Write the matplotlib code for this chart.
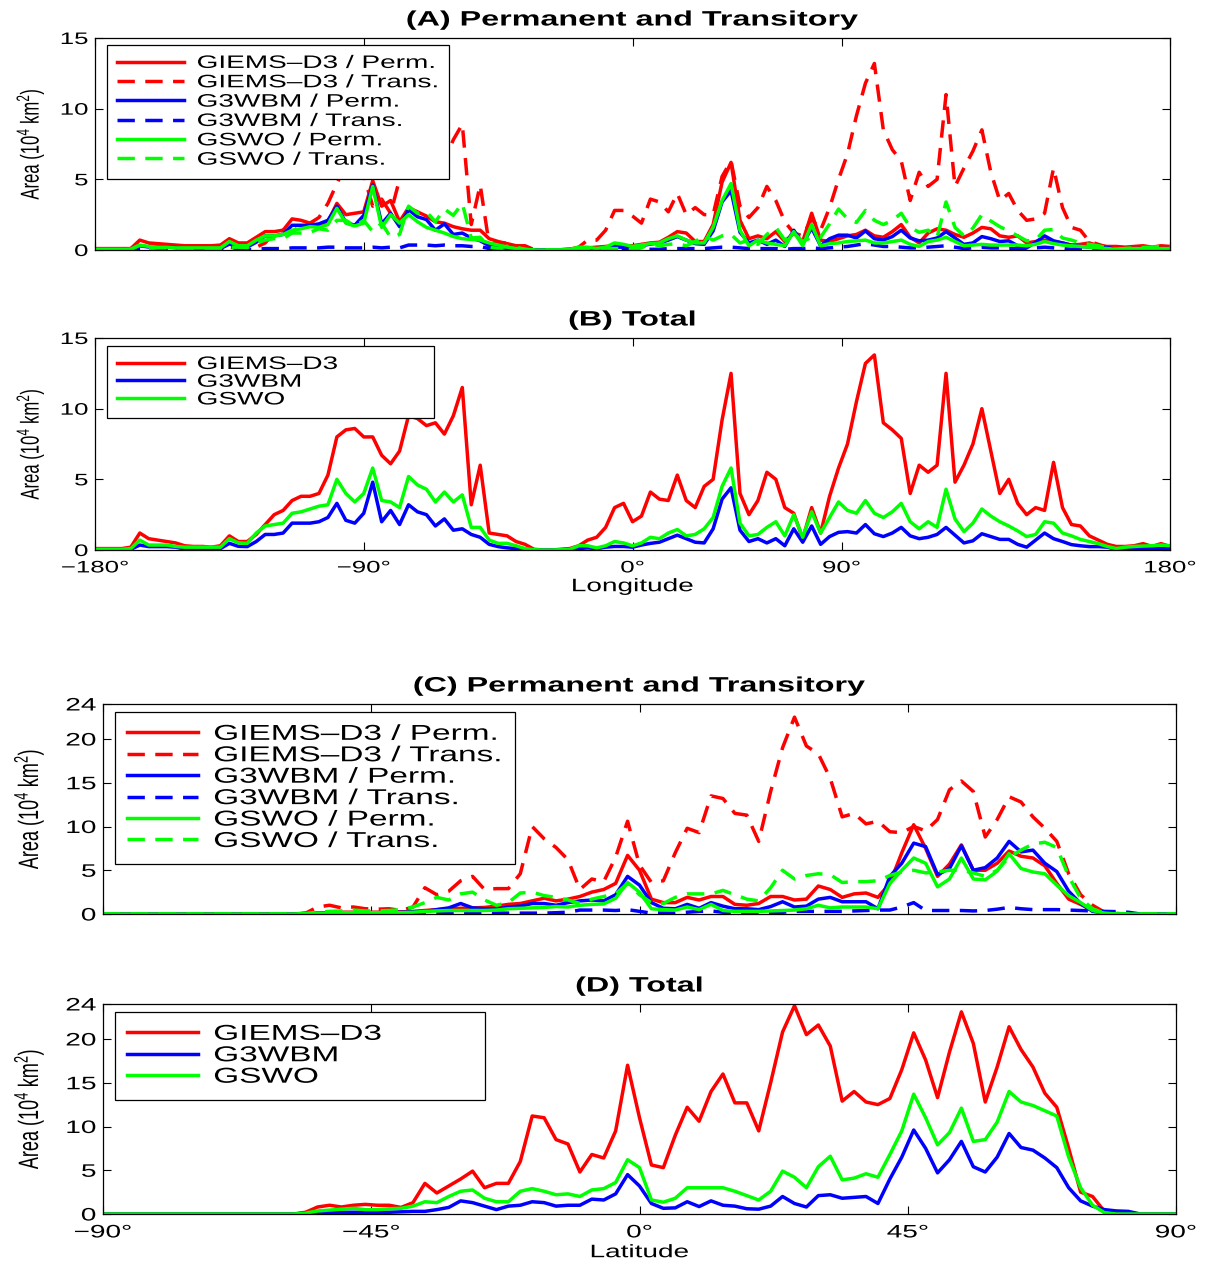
import numpy as np
import matplotlib
matplotlib.use("Agg")
import matplotlib.pyplot as plt
from matplotlib.patheffects import AbstractPathEffect
from matplotlib.transforms import Affine2D
from matplotlib.patches import Rectangle

plt.rcParams['font.family'] = ['Liberation Sans', 'DejaVu Sans']
plt.rcParams['mathtext.fontset'] = 'custom'
plt.rcParams['mathtext.rm'] = 'Liberation Sans'
plt.rcParams['mathtext.default'] = 'regular'

# the original figure was exported with a horizontal stretch of the text
STRETCH = 1.55

RED, BLUE, GREEN = '#ff0000', '#0000ff', '#00ff00'

# ---------------- longitude profiles (3 deg steps) ----------------
lon = np.arange(-180, 181, 3)

giems_perm_lon = [
    0.1, 0.1, 0.1, 0.1, 0.1, 0.7, 0.5, 0.45, 0.4, 0.35,
    0.3, 0.3, 0.3, 0.3, 0.35, 0.8, 0.5, 0.5, 0.9, 1.3,
    1.3, 1.4, 2.2, 2.1, 1.9, 1.7, 2.0, 3.3, 2.5, 2.6,
    2.7, 4.9, 3.1, 3.5, 2.0, 3.0, 2.7, 2.4, 2.0, 1.9,
    1.65, 1.5, 1.4, 1.4, 0.8, 0.6, 0.45, 0.3, 0.1, 0.02,
    0, 0, 0.02, 0.05, 0.1, 0.15, 0.2, 0.25, 0.3, 0.3,
    0.3, 0.4, 0.5, 0.55, 0.9, 1.3, 1.2, 0.6, 0.6, 1.8,
    4.8, 6.2, 2.1, 0.8, 1.0, 0.8, 1.3, 0.6, 1.2, 0.6,
    2.6, 0.7, 0.6, 0.8, 1.0, 1.1, 1.4, 1.0, 0.9, 1.3,
    1.8, 0.9, 0.5, 1.2, 1.5, 1.4, 1.1, 0.9, 1.2, 1.6,
    1.5, 1.0, 0.9, 1.0, 0.5, 0.6, 0.7, 0.6, 0.5, 0.35,
    0.4, 0.5, 0.3, 0.25, 0.25, 0.2, 0.25, 0.3, 0.2, 0.3,
    0.25]
giems_trans_lon = [
    0, 0, 0, 0, 0.1, 0.5, 0.3, 0.25, 0.2, 0.15,
    0, 0, 0, 0, 0, 0.2, 0.1, 0.1, 0.2, 0.5,
    1.2, 1.4, 1.3, 1.7, 1.9, 2.3, 3.3, 4.7, 6.0, 6.0,
    5.3, 3.1, 3.6, 2.6, 5.0, 6.5, 6.6, 6.4, 7.0, 6.3,
    7.8, 8.9, 1.8, 4.6, 0.4, 0.5, 0.5, 0.3, 0.3, 0.03,
    0, 0, 0, 0.05, 0.2, 0.7, 0.7, 1.4, 2.8, 2.8,
    2.4, 1.9, 3.6, 3.4, 2.7, 4.0, 2.5, 3.0, 2.5, 2.5,
    5.2, 6.3, 3.1, 2.3, 3.0, 4.5, 3.5, 2.0, 1.2, 1.0,
    2.2, 1.4, 3.0, 5.0, 6.8, 9.5, 11.8, 13.2, 8.5, 7.1,
    6.3, 3.5, 5.5, 4.5, 5.0, 11.0, 4.5, 5.8, 7.0, 8.5,
    5.5, 3.5, 4.0, 2.8, 2.1, 2.2, 2.6, 5.8, 3.0, 1.6,
    1.4, 0.6, 0.4, 0.2, 0.05, 0.05, 0.1, 0.15, 0.05, 0.15,
    0.05]
g3wbm_perm_lon = [
    0.03, 0.03, 0.03, 0.03, 0.05, 0.3, 0.21, 0.21, 0.21, 0.17,
    0.07, 0.07, 0.07, 0.07, 0.1, 0.42, 0.23, 0.21, 0.55, 1.0,
    1.0, 1.1, 1.75, 1.75, 1.75, 1.85, 2.1, 3.1, 1.95, 1.75,
    2.45, 4.6, 1.85, 2.6, 1.65, 2.85, 2.35, 2.15, 1.4, 1.85,
    1.1, 1.2, 0.85, 0.65, 0.3, 0.19, 0.12, 0.08, 0.04, 0.02,
    0, 0, 0.02, 0.05, 0.08, 0.12, 0.07, 0.15, 0.2, 0.2,
    0.15, 0.3, 0.42, 0.5, 0.7, 0.95, 0.7, 0.45, 0.4, 1.35,
    3.4, 4.2, 1.25, 0.5, 0.7, 0.4, 0.7, 0.25, 1.4, 0.45,
    1.55, 0.3, 0.8, 1.05, 1.05, 0.85, 1.35, 0.8, 0.7, 0.95,
    1.4, 0.85, 0.65, 0.7, 0.85, 1.3, 0.85, 0.4, 0.5, 0.95,
    0.8, 0.6, 0.65, 0.3, 0.15, 0.55, 1.0, 0.65, 0.5, 0.33,
    0.25, 0.21, 0.21, 0.17, 0.05, 0.05, 0.1, 0.1, 0.1, 0.1,
    0.1]
g3wbm_trans_lon = [
    0, 0, 0, 0, 0, 0.05, 0.03, 0.03, 0.03, 0.03,
    0, 0, 0, 0, 0, 0.05, 0.03, 0.03, 0.05, 0.1,
    0.1, 0.1, 0.15, 0.15, 0.15, 0.15, 0.2, 0.2, 0.15, 0.15,
    0.15, 0.2, 0.15, 0.2, 0.15, 0.35, 0.35, 0.35, 0.3, 0.35,
    0.3, 0.3, 0.25, 0.25, 0.1, 0.05, 0.03, 0.02, 0.01, 0,
    0, 0, 0, 0, 0.02, 0.03, 0.03, 0.05, 0.05, 0.05,
    0.05, 0.05, 0.05, 0.05, 0.1, 0.1, 0.1, 0.1, 0.1, 0.15,
    0.2, 0.2, 0.15, 0.1, 0.1, 0.1, 0.1, 0.05, 0.1, 0.1,
    0.15, 0.1, 0.15, 0.2, 0.25, 0.35, 0.45, 0.35, 0.25, 0.25,
    0.2, 0.15, 0.15, 0.2, 0.25, 0.3, 0.2, 0.1, 0.15, 0.2,
    0.15, 0.15, 0.1, 0.1, 0.05, 0.15, 0.2, 0.15, 0.1, 0.05,
    0.05, 0.03, 0.03, 0.03, 0, 0, 0, 0, 0, 0,
    0]
gswo_perm_lon = [
    0.05, 0.05, 0.05, 0.05, 0.05, 0.35, 0.25, 0.2, 0.2, 0.15,
    0.15, 0.15, 0.15, 0.15, 0.15, 0.6, 0.3, 0.3, 0.7, 1.0,
    1.0, 1.1, 1.4, 1.5, 1.65, 1.6, 1.8, 2.95, 1.9, 1.7,
    1.9, 4.5, 1.6, 2.5, 1.9, 2.5, 2.0, 1.6, 1.4, 1.2,
    0.95, 0.8, 0.75, 0.7, 0.5, 0.35, 0.2, 0.1, 0.05, 0,
    0, 0, 0, 0.05, 0.2, 0.2, 0.1, 0.2, 0.5, 0.4,
    0.25, 0.35, 0.45, 0.5, 0.8, 1.0, 0.7, 0.5, 0.5, 1.6,
    3.5, 4.7, 1.4, 0.3, 0.7, 0.5, 0.4, 0.3, 1.3, 0.3,
    1.8, 0.3, 0.45, 0.5, 0.6, 0.65, 0.7, 0.5, 0.5, 0.6,
    0.7, 0.4, 0.25, 0.6, 0.7, 0.9, 0.6, 0.3, 0.35, 0.4,
    0.35, 0.35, 0.35, 0.35, 0.3, 0.4, 0.6, 0.45, 0.35, 0.3,
    0.25, 0.2, 0.15, 0.1, 0.05, 0.1, 0.1, 0.1, 0.1, 0.1,
    0.1]
gswo_trans_lon = [
    0, 0, 0, 0, 0.05, 0.35, 0.1, 0.15, 0.15, 0.1,
    0.05, 0.05, 0.05, 0.05, 0.05, 0.2, 0.2, 0.17, 0.5, 0.7,
    0.8, 0.8, 1.2, 1.2, 1.25, 1.5, 1.4, 2.1, 2.1, 1.7,
    2.1, 1.3, 1.9, 0.9, 1.1, 3.1, 2.6, 2.7, 2.0, 2.9,
    2.45, 3.3, 0.85, 0.9, 0.2, 0.12, 0.27, 0.2, 0.05, 0,
    0, 0, 0, 0, 0.1, 0.1, 0.05, 0.1, 0.1, 0.1,
    0.05, 0.15, 0.45, 0.3, 0.4, 0.45, 0.3, 0.6, 1.0, 0.7,
    1.0, 1.1, 0.5, 0.7, 0.4, 1.1, 1.6, 0.7, 1.2, 0.6,
    0.9, 0.9, 1.85, 2.9, 2.2, 1.95, 2.8, 2.1, 1.8, 2.1,
    2.6, 1.6, 1.25, 1.4, 0.9, 3.4, 1.6, 1.0, 1.55, 2.5,
    2.05, 1.65, 1.35, 1.0, 0.65, 0.7, 1.4, 1.45, 0.85, 0.7,
    0.5, 0.4, 0.3, 0.15, 0.05, 0.1, 0.15, 0.18, 0.2, 0.25,
    0.2]
giems_total_lon = [
    0.1, 0.1, 0.1, 0.1, 0.2, 1.2, 0.8, 0.7, 0.6, 0.5,
    0.3, 0.25, 0.25, 0.2, 0.3, 1.0, 0.6, 0.6, 1.1, 1.8,
    2.5, 2.8, 3.5, 3.8, 3.8, 4.0, 5.3, 8.0, 8.5, 8.6,
    8.0, 8.0, 6.7, 6.1, 7.0, 9.5, 9.3, 8.8, 9.0, 8.2,
    9.5, 11.5, 3.2, 6.0, 1.2, 1.1, 1.0, 0.6, 0.4, 0.05,
    0, 0, 0.05, 0.1, 0.3, 0.7, 0.9, 1.6, 3.0, 3.3,
    2.0, 2.4, 4.1, 3.6, 3.5, 5.3, 3.5, 3.0, 4.5, 5.0,
    9.2, 12.5, 4.0, 2.5, 3.5, 5.5, 5.0, 3.0, 2.6, 0.8,
    3.0, 1.2, 3.8, 5.8, 7.5, 10.5, 13.2, 13.8, 9.0, 8.5,
    7.9, 4.0, 6.0, 5.5, 6.0, 12.5, 4.8, 6.0, 7.5, 10.0,
    7.0, 4.0, 5.0, 3.3, 2.5, 3.0, 2.8, 6.2, 3.0, 1.8,
    1.7, 1.0, 0.7, 0.4, 0.25, 0.25, 0.3, 0.45, 0.25, 0.45,
    0.25]
g3wbm_total_lon = [
    0.03, 0.03, 0.03, 0.03, 0.05, 0.35, 0.24, 0.24, 0.24, 0.2,
    0.07, 0.07, 0.07, 0.07, 0.1, 0.47, 0.26, 0.24, 0.6, 1.1,
    1.1, 1.2, 1.9, 1.9, 1.9, 2.0, 2.3, 3.3, 2.1, 1.9,
    2.6, 4.8, 2.0, 2.8, 1.8, 3.2, 2.7, 2.5, 1.7, 2.2,
    1.4, 1.5, 1.1, 0.9, 0.4, 0.24, 0.15, 0.1, 0.05, 0.02,
    0, 0, 0.02, 0.05, 0.1, 0.15, 0.1, 0.2, 0.25, 0.25,
    0.2, 0.35, 0.47, 0.55, 0.8, 1.05, 0.8, 0.55, 0.5, 1.5,
    3.6, 4.4, 1.4, 0.6, 0.8, 0.5, 0.8, 0.3, 1.5, 0.55,
    1.7, 0.4, 0.95, 1.25, 1.3, 1.2, 1.8, 1.15, 0.95, 1.2,
    1.6, 1.0, 0.8, 0.9, 1.1, 1.6, 1.05, 0.5, 0.65, 1.15,
    0.95, 0.75, 0.75, 0.4, 0.2, 0.7, 1.2, 0.8, 0.6, 0.38,
    0.3, 0.24, 0.24, 0.2, 0.05, 0.05, 0.1, 0.1, 0.1, 0.1,
    0.1]
gswo_total_lon = [
    0.05, 0.05, 0.05, 0.05, 0.1, 0.7, 0.35, 0.35, 0.35, 0.25,
    0.2, 0.2, 0.2, 0.2, 0.2, 0.8, 0.5, 0.47, 1.2, 1.7,
    1.8, 1.9, 2.6, 2.7, 2.9, 3.1, 3.2, 5.0, 4.0, 3.4,
    4.0, 5.8, 3.5, 3.4, 3.0, 5.2, 4.6, 4.3, 3.4, 4.1,
    3.4, 3.9, 1.6, 1.6, 0.7, 0.47, 0.47, 0.3, 0.1, 0.02,
    0, 0, 0.02, 0.05, 0.3, 0.3, 0.15, 0.3, 0.6, 0.5,
    0.3, 0.5, 0.9, 0.8, 1.2, 1.45, 1.0, 1.1, 1.5, 2.3,
    4.5, 5.8, 1.9, 1.0, 1.1, 1.6, 2.0, 1.0, 2.5, 0.9,
    2.7, 1.2, 2.3, 3.4, 2.8, 2.6, 3.5, 2.6, 2.3, 2.7,
    3.3, 2.0, 1.5, 2.0, 1.6, 4.3, 2.2, 1.3, 1.9, 2.9,
    2.4, 2.0, 1.7, 1.35, 0.95, 1.1, 2.0, 1.9, 1.2, 1.0,
    0.75, 0.6, 0.45, 0.25, 0.1, 0.2, 0.25, 0.28, 0.3, 0.35,
    0.3]

# tick positions follow the original axis (its 90E tick sits left of the linear spot)
lon_ticks = [-180, -90, 0, 70, 180]
lon_ticklabels = ['\u2212180\u00b0', '\u221290\u00b0', '0\u00b0', '90\u00b0', '180\u00b0']

# ---------------- latitude profiles (2 deg steps) ----------------
lat = np.arange(-90, 91, 2)

giems_perm_lat = [
    0, 0, 0, 0, 0, 0, 0, 0, 0, 0,
    0, 0, 0, 0, 0, 0, 0, 0.05, 0.1, 0.15,
    0.2, 0.2, 0.2, 0.2, 0.25, 0.25, 0.3, 0.4, 0.5, 0.6,
    0.65, 0.7, 0.75, 0.9, 1.1, 1.2, 1.5, 1.8, 1.5, 1.7,
    2.0, 2.5, 2.8, 3.5, 6.7, 5.0, 1.7, 1.3, 1.3, 1.9,
    1.6, 2.0, 2.0, 1.1, 1.0, 1.2, 2.0, 2.0, 1.6, 1.7,
    3.2, 2.8, 1.9, 2.3, 2.4, 1.9, 3.5, 7.0, 10.2, 7.5,
    4.3, 5.7, 7.9, 5.0, 5.0, 5.8, 7.2, 6.6, 6.4, 5.5,
    3.5, 1.7, 1.1, 0.4, 0.1, 0, 0, 0, 0, 0,
    0]
giems_trans_lat = [
    0, 0, 0, 0, 0, 0, 0, 0, 0, 0,
    0, 0, 0, 0, 0, 0, 0, 0.1, 0.8, 1.0,
    0.7, 0.8, 0.6, 0.55, 0.6, 0.4, 0.8, 3.0, 2.2, 2.6,
    3.8, 4.3, 2.8, 2.9, 2.9, 4.6, 10.0, 8.6, 7.6, 6.2,
    2.8, 4.0, 3.7, 6.5, 10.6, 5.6, 3.6, 3.8, 7.0, 9.8,
    9.3, 13.5, 13.2, 11.5, 11.3, 8.3, 14.0, 19.0, 22.5, 19.2,
    18.3, 15.5, 11.1, 11.5, 10.3, 10.6, 9.4, 9.3, 10.0, 9.5,
    10.8, 14.2, 15.2, 14.0, 8.8, 10.8, 13.4, 12.8, 11.1, 9.8,
    8.3, 4.6, 2.2, 1.0, 0.2, 0.05, 0, 0, 0, 0,
    0]
g3wbm_perm_lat = [
    0, 0, 0, 0, 0, 0, 0, 0, 0, 0,
    0, 0, 0, 0, 0, 0, 0, 0.05, 0.1, 0.15,
    0.15, 0.15, 0.15, 0.15, 0.15, 0.2, 0.25, 0.3, 0.5, 0.7,
    1.2, 0.7, 0.6, 0.55, 0.8, 0.9, 1.2, 1.2, 1.0, 1.3,
    1.5, 1.6, 1.5, 2.2, 4.3, 3.3, 1.3, 0.65, 0.6, 1.1,
    0.65, 1.3, 0.9, 0.6, 0.6, 0.5, 0.85, 1.4, 0.8, 0.9,
    1.7, 1.9, 1.4, 1.4, 1.4, 0.6, 4.3, 5.8, 8.1, 7.7,
    4.5, 5.2, 7.8, 5.0, 5.3, 6.4, 8.3, 7.1, 7.3, 5.8,
    4.85, 2.6, 1.2, 0.3, 0.15, 0.05, 0, 0, 0, 0,
    0]
g3wbm_trans_lat = [
    0, 0, 0, 0, 0, 0, 0, 0, 0, 0,
    0, 0, 0, 0, 0, 0, 0, 0.05, 0.05, 0.05,
    0.05, 0.05, 0.05, 0.05, 0.05, 0.05, 0.05, 0.05, 0.05, 0.1,
    0.1, 0.1, 0.1, 0.1, 0.1, 0.1, 0.1, 0.1, 0.15, 0.2,
    0.45, 0.45, 0.45, 0.4, 0.5, 0.3, 0.1, 0.1, 0.1, 0.2,
    0.3, 0.35, 0.2, 0.2, 0.1, 0.1, 0.1, 0.2, 0.3, 0.3,
    0.3, 0.3, 0.3, 0.35, 0.4, 0.45, 0.45, 0.8, 1.3, 0.4,
    0.4, 0.4, 0.4, 0.35, 0.4, 0.55, 0.75, 0.6, 0.5, 0.5,
    0.5, 0.45, 0.4, 0.35, 0.3, 0.27, 0.2, 0, 0, 0,
    0]
gswo_perm_lat = [
    0, 0, 0, 0, 0, 0, 0, 0, 0, 0,
    0, 0, 0, 0, 0, 0, 0, 0.05, 0.1, 0.1,
    0.15, 0.15, 0.15, 0.15, 0.15, 0.15, 0.2, 0.3, 0.35, 0.4,
    0.4, 0.4, 0.4, 0.45, 0.6, 0.65, 0.7, 0.75, 0.85, 0.8,
    1.0, 1.1, 1.15, 1.8, 3.6, 2.5, 0.6, 0.5, 0.45, 0.8,
    0.5, 1.1, 0.4, 0.3, 0.3, 0.3, 0.35, 0.4, 0.45, 0.6,
    1.0, 0.7, 0.8, 0.8, 0.8, 0.6, 3.5, 5.0, 6.4, 5.8,
    3.1, 4.0, 6.4, 4.0, 3.9, 4.9, 6.9, 5.2, 4.8, 4.6,
    3.3, 2.1, 1.3, 0.4, 0.1, 0, 0, 0, 0, 0,
    0]
gswo_trans_lat = [
    0, 0, 0, 0, 0, 0, 0, 0, 0, 0,
    0, 0, 0, 0, 0, 0, 0, 0.05, 0.2, 0.3,
    0.35, 0.45, 0.35, 0.35, 0.4, 0.5, 0.8, 1.3, 1.9, 1.6,
    2.3, 2.5, 1.6, 1.0, 1.3, 2.4, 2.5, 2.1, 1.9, 1.6,
    1.2, 1.7, 2.0, 2.3, 3.5, 2.2, 1.3, 1.2, 1.9, 2.3,
    2.3, 2.3, 2.7, 2.2, 1.7, 1.5, 3.0, 5.0, 4.0, 4.4,
    4.6, 4.5, 3.6, 3.7, 3.7, 3.8, 4.4, 4.8, 5.0, 4.7,
    4.8, 5.0, 5.0, 4.7, 4.3, 5.0, 6.5, 7.3, 8.0, 8.2,
    7.6, 4.3, 1.8, 0.6, 0.1, 0, 0, 0, 0, 0,
    0]
giems_total_lat = [
    0, 0, 0, 0, 0, 0, 0, 0, 0, 0,
    0, 0, 0, 0, 0, 0, 0, 0.2, 0.8, 1.0,
    0.8, 1.0, 1.1, 1.0, 1.0, 0.75, 1.3, 3.5, 2.4, 3.2,
    4.0, 4.9, 3.0, 3.5, 3.5, 6.0, 11.2, 11.0, 8.5, 8.0,
    4.8, 6.8, 6.4, 9.5, 17.0, 11.0, 5.6, 5.3, 9.0, 12.2,
    10.6, 14.0, 16.0, 12.7, 12.7, 9.5, 15.0, 20.8, 23.8, 20.5,
    21.6, 19.2, 12.9, 14.0, 12.8, 12.5, 13.2, 16.5, 20.7, 17.6,
    13.3, 18.5, 23.1, 19.5, 12.8, 16.8, 21.4, 18.8, 16.8, 13.8,
    12.2, 7.5, 2.5, 2.0, 0.3, 0.05, 0, 0, 0, 0,
    0]
g3wbm_total_lat = [
    0, 0, 0, 0, 0, 0, 0, 0, 0, 0,
    0, 0, 0, 0, 0, 0, 0, 0.1, 0.15, 0.2,
    0.2, 0.2, 0.2, 0.2, 0.2, 0.25, 0.3, 0.3, 0.5, 0.75,
    1.5, 1.3, 0.9, 0.5, 0.9, 1.0, 1.4, 1.3, 0.9, 1.0,
    1.0, 1.7, 1.6, 2.3, 4.5, 3.2, 1.2, 0.65, 0.7, 1.4,
    0.85, 1.5, 1.0, 0.9, 0.6, 0.55, 0.9, 2.0, 1.2, 0.8,
    2.1, 2.2, 1.8, 1.9, 2.0, 1.2, 4.0, 6.5, 9.6, 7.5,
    4.7, 6.2, 8.3, 5.4, 4.8, 6.5, 9.2, 7.6, 7.3, 6.4,
    5.3, 3.0, 1.5, 0.9, 0.5, 0.35, 0.3, 0, 0, 0,
    0]
gswo_total_lat = [
    0, 0, 0, 0, 0, 0, 0, 0, 0, 0,
    0, 0, 0, 0, 0, 0, 0, 0.1, 0.35, 0.45,
    0.55, 0.65, 0.5, 0.5, 0.6, 0.65, 0.9, 1.4, 1.3, 2.0,
    2.6, 2.75, 1.8, 1.4, 1.4, 2.6, 2.9, 2.6, 2.2, 2.3,
    2.0, 2.75, 2.9, 3.6, 6.2, 5.3, 1.6, 1.35, 1.8, 3.0,
    3.0, 3.0, 3.0, 2.6, 2.1, 1.6, 2.6, 4.9, 4.2, 3.0,
    5.4, 6.6, 3.9, 4.1, 4.6, 4.2, 6.8, 9.5, 13.7, 11.0,
    7.9, 9.3, 12.1, 8.3, 8.5, 10.5, 14.0, 12.8, 12.4, 11.8,
    11.2, 6.5, 3.0, 1.0, 0.15, 0, 0, 0, 0, 0,
    0]

lat_ticks = [-90, -45, 0, 45, 90]
lat_ticklabels = ['\u221290\u00b0', '\u221245\u00b0', '0\u00b0', '45\u00b0', '90\u00b0']

DASH = (0, (5, 3))


class HStretch(AbstractPathEffect):
    """Draw text glyphs widened along x, like the stretched export of the original."""

    def __init__(self, sx, anchor="center"):
        super().__init__()
        self.sx = sx
        self.anchor = anchor

    def draw_path(self, renderer, gc, tpath, affine, rgbFace=None):
        bb = tpath.get_extents(affine)
        if self.anchor == "left":
            x0 = bb.x0
        elif self.anchor == "right":
            x0 = bb.x1
        else:
            x0 = 0.5 * (bb.x0 + bb.x1)
        widen = Affine2D().translate(-x0, 0).scale(self.sx, 1).translate(x0, 0)
        renderer.draw_path(gc, tpath, affine + widen, rgbFace)


def stretched(anchor):
    return [HStretch(STRETCH, anchor)]


def style_axes(ax, xlim, ylim, yticks, xticks, xticklabels, tick_size, ylabel_x):
    ax.set_xlim(*xlim)
    ax.set_ylim(*ylim)
    ax.set_yticks(yticks)
    ax.set_yticklabels([str(v) for v in yticks])
    ax.set_xticks(xticks)
    if xticklabels is None:
        ax.set_xticklabels([])
    else:
        ax.set_xticklabels(xticklabels)
    ax.tick_params(direction='in', top=True, right=True, length=6, width=0.8,
                   labelsize=tick_size, pad=5)
    ax.tick_params(axis='x', pad=7.5)
    for sp in ax.spines.values():
        sp.set_linewidth(0.9)
    for t in ax.yaxis.get_major_ticks():
        t.label1.set_path_effects(stretched("right"))
    for t in ax.xaxis.get_major_ticks():
        t.label1.set_path_effects(stretched("center"))
    ax.set_ylabel('Area (10$^4$ km$^2$)', fontsize=tick_size)
    ax.yaxis.set_label_coords(ylabel_x, 0.5)
    ax.yaxis.label.set_path_effects(stretched("center"))


def add_title(ax, text):
    t = ax.set_title(text, fontsize=15, fontweight='bold', pad=9)
    t.set_path_effects(stretched("center"))


def add_legend(ax, fontsize, handlelength, top, spacing):
    leg = ax.legend(loc='upper left', bbox_to_anchor=(0.011, top), borderaxespad=0,
                    frameon=False, fontsize=fontsize, handlelength=handlelength,
                    handletextpad=0.75, labelspacing=spacing, borderpad=0.55)
    for t in leg.get_texts():
        t.set_path_effects(stretched("left"))
    return leg


def frame_legend(fig, ax, leg, extra=0.0):
    # legend texts are widened at draw time, so the frame is drawn to match them;
    # extra widens the box further (in axes fraction), as in the original
    r = fig.canvas.get_renderer()
    bb = leg.get_window_extent(r)
    boxes = [t.get_window_extent(r) for t in leg.get_texts()]
    right_pad = bb.x1 - max(b.x1 for b in boxes)
    right = max(b.x0 + STRETCH * b.width for b in boxes) + right_pad
    inv = ax.transAxes.inverted()
    (x0, y0), (x1, y1) = inv.transform([(bb.x0, bb.y0), (right, bb.y1)])
    ax.add_patch(Rectangle((x0, y0), x1 - x0 + extra, y1 - y0, transform=ax.transAxes,
                           facecolor='white', edgecolor='black', lw=0.9,
                           zorder=4.5, clip_on=False))


W, H = 1217, 1265
fig = plt.figure(figsize=(W / 100, H / 100), dpi=100)

ax_a = fig.add_axes([95 / W, 1 - 250 / H, 1075 / W, 212 / H])
ax_b = fig.add_axes([95 / W, 1 - 550 / H, 1075 / W, 212 / H])
ax_c = fig.add_axes([103 / W, 1 - 914 / H, 1073 / W, 210 / H])
ax_d = fig.add_axes([103 / W, 1 - 1214 / H, 1073 / W, 210 / H])

LW = 2.5

# (A) permanent and transitory, by longitude
ax_a.plot(lon, giems_perm_lon, color=RED, lw=LW, label='GIEMS\u2013D3 / Perm.')
ax_a.plot(lon, giems_trans_lon, color=RED, lw=LW, ls=DASH, label='GIEMS\u2013D3 / Trans.')
ax_a.plot(lon, g3wbm_perm_lon, color=BLUE, lw=LW, label='G3WBM / Perm.')
ax_a.plot(lon, g3wbm_trans_lon, color=BLUE, lw=LW, ls=DASH, label='G3WBM / Trans.')
ax_a.plot(lon, gswo_perm_lon, color=GREEN, lw=LW, label='GSWO / Perm.')
ax_a.plot(lon, gswo_trans_lon, color=GREEN, lw=LW, ls=DASH, label='GSWO / Trans.')
style_axes(ax_a, (-180, 180), (0, 15), [0, 5, 10, 15], lon_ticks, None, 12, -0.05)
add_title(ax_a, '(A) Permanent and Transitory')
leg_a = add_legend(ax_a, 13, 3.7, 0.967, 0.13)

# (B) total, by longitude
ax_b.plot(lon, giems_total_lon, color=RED, lw=LW, label='GIEMS\u2013D3')
ax_b.plot(lon, g3wbm_total_lon, color=BLUE, lw=LW, label='G3WBM')
ax_b.plot(lon, gswo_total_lon, color=GREEN, lw=LW, label='GSWO')
style_axes(ax_b, (-180, 180), (0, 15), [0, 5, 10, 15], lon_ticks, lon_ticklabels, 12, -0.05)
add_title(ax_b, '(B) Total')
leg_b = add_legend(ax_b, 13, 3.7, 0.962, 0.04)
xl = ax_b.set_xlabel('Longitude', fontsize=13, labelpad=2)
xl.set_path_effects(stretched("center"))

# (C) permanent and transitory, by latitude
ax_c.plot(lat, giems_perm_lat, color=RED, lw=LW, label='GIEMS\u2013D3 / Perm.')
ax_c.plot(lat, giems_trans_lat, color=RED, lw=LW, ls=DASH, label='GIEMS\u2013D3 / Trans.')
ax_c.plot(lat, g3wbm_perm_lat, color=BLUE, lw=LW, label='G3WBM / Perm.')
ax_c.plot(lat, g3wbm_trans_lat, color=BLUE, lw=LW, ls=DASH, label='G3WBM / Trans.')
ax_c.plot(lat, gswo_perm_lat, color=GREEN, lw=LW, label='GSWO / Perm.')
ax_c.plot(lat, gswo_trans_lat, color=GREEN, lw=LW, ls=DASH, label='GSWO / Trans.')
style_axes(ax_c, (-90, 90), (0, 24), [0, 5, 10, 15, 20, 24], lat_ticks, None, 13, -0.058)
add_title(ax_c, '(C) Permanent and Transitory')
leg_c = add_legend(ax_c, 15.5, 3.3, 0.962, 0.02)

# (D) total, by latitude
ax_d.plot(lat, giems_total_lat, color=RED, lw=LW, label='GIEMS\u2013D3')
ax_d.plot(lat, g3wbm_total_lat, color=BLUE, lw=LW, label='G3WBM')
ax_d.plot(lat, gswo_total_lat, color=GREEN, lw=LW, label='GSWO')
style_axes(ax_d, (-90, 90), (0, 24), [0, 5, 10, 15, 20, 24], lat_ticks, lat_ticklabels, 13, -0.058)
add_title(ax_d, '(D) Total')
leg_d = add_legend(ax_d, 15.5, 3.3, 0.962, 0.02)
xl = ax_d.set_xlabel('Latitude', fontsize=13, labelpad=2)
xl.set_path_effects(stretched("center"))

fig.canvas.draw()
frame_legend(fig, ax_a, leg_a)
frame_legend(fig, ax_b, leg_b, extra=0.08)
frame_legend(fig, ax_c, leg_c)
frame_legend(fig, ax_d, leg_d, extra=0.085)

fig.savefig('out.png', dpi=100)
